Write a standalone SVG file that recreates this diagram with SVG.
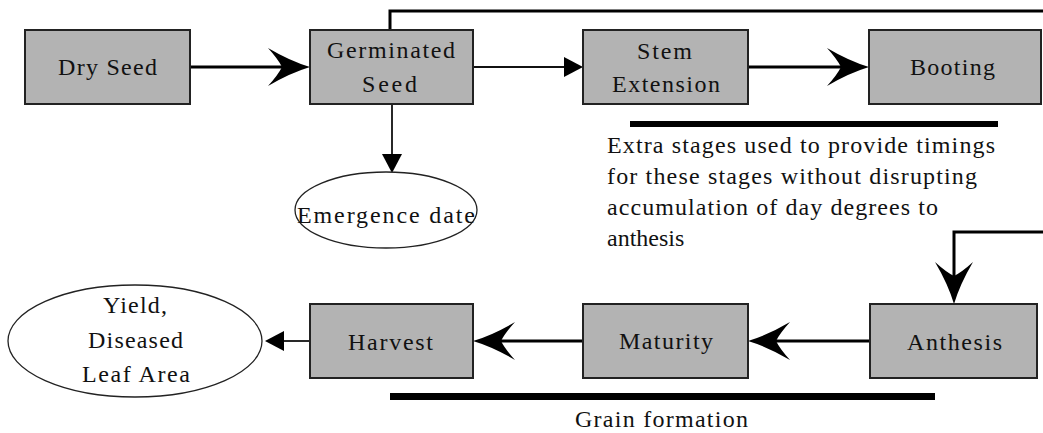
<svg xmlns="http://www.w3.org/2000/svg" width="1043" height="433" viewBox="0 0 1043 433">
<style>
.box{fill:#b3b3b3;stroke:#222;stroke-width:2}
.ell{fill:#fff;stroke:#222;stroke-width:1.3}
.thick{stroke:#000;stroke-width:3;fill:none}
.thin{stroke:#111;stroke-width:1.8;fill:none}
.bar{fill:#000}
</style>
<defs>
<marker id="big" markerUnits="userSpaceOnUse" viewBox="-44 -21 46 42" refX="-28" refY="0" markerWidth="46" markerHeight="42" orient="auto">
<path d="M0,0 Q-20,-6 -42,-19 Q-32,-8 -28,0 Q-32,8 -42,19 Q-20,6 0,0 Z" fill="#000"/>
</marker>
<marker id="small" markerUnits="userSpaceOnUse" viewBox="-21 -11 23 22" refX="-18" refY="0" markerWidth="23" markerHeight="22" orient="auto">
<path d="M0,0 L-19,-10 L-19,10 Z" fill="#000"/>
</marker>
</defs>

<g id="connectors">
<line class="thick" x1="190" y1="67" x2="282" y2="67" marker-end="url(#big)"/>
<line class="thin" x1="473" y1="67" x2="565" y2="67" marker-end="url(#small)"/>
<line class="thick" x1="748" y1="67" x2="841" y2="67" marker-end="url(#big)"/>
<line class="thin" x1="392" y1="104" x2="392" y2="155" marker-end="url(#small)"/>
<polyline class="thick" points="390,30 390,11 1043,11"/>
<polyline class="thick" points="1043,232 954,232 954,276" marker-end="url(#big)"/>
<line class="thick" x1="870" y1="341" x2="776" y2="341" marker-end="url(#big)"/>
<line class="thick" x1="583" y1="341" x2="501" y2="341" marker-end="url(#big)"/>
<line class="thin" x1="309" y1="341" x2="283" y2="341" marker-end="url(#small)"/>
</g>

<g font-family="Liberation Serif, Times New Roman, serif" font-size="24" fill="#111">
<g id="dry-seed">
<rect class="box" x="25" y="30" width="165" height="74"/>
<text x="58" y="75" textLength="99" lengthAdjust="spacing">Dry Seed</text>
</g>
<g id="germinated-seed">
<rect class="box" x="310" y="30" width="163" height="74"/>
<text x="327" y="58" textLength="128" lengthAdjust="spacing">Germinated</text>
<text x="362" y="92" textLength="55" lengthAdjust="spacing">Seed</text>
</g>
<g id="stem-extension">
<rect class="box" x="583" y="30" width="165" height="74"/>
<text x="637" y="59" textLength="55" lengthAdjust="spacing">Stem</text>
<text x="612" y="92" textLength="108" lengthAdjust="spacing">Extension</text>
</g>
<g id="booting">
<rect class="box" x="869" y="30" width="172" height="74"/>
<text x="910" y="75" textLength="85" lengthAdjust="spacing">Booting</text>
</g>
<g id="emergence-date">
<ellipse class="ell" cx="386" cy="210" rx="91" ry="38"/>
<text x="297" y="223" textLength="178" lengthAdjust="spacing">Emergence date</text>
</g>
<g id="extra-stages-note">
<rect class="bar" x="630" y="121" width="368" height="6"/>
<text x="607" y="153" textLength="388" lengthAdjust="spacing">Extra stages used to provide timings</text>
<text x="607" y="184" textLength="370" lengthAdjust="spacing">for these stages without disrupting</text>
<text x="607" y="215" textLength="331" lengthAdjust="spacing">accumulation of day degrees to</text>
<text x="607" y="246">anthesis</text>
</g>
<g id="anthesis">
<rect class="box" x="870" y="304" width="167" height="74"/>
<text x="907" y="350" textLength="95" lengthAdjust="spacing">Anthesis</text>
</g>
<g id="maturity">
<rect class="box" x="583" y="304" width="165" height="74"/>
<text x="619" y="349" textLength="94" lengthAdjust="spacing">Maturity</text>
</g>
<g id="harvest">
<rect class="box" x="310" y="304" width="163" height="74"/>
<text x="348" y="350" textLength="85" lengthAdjust="spacing">Harvest</text>
</g>
<g id="yield">
<ellipse class="ell" cx="135" cy="341" rx="127" ry="56"/>
<text x="103" y="313" textLength="64" lengthAdjust="spacing">Yield,</text>
<text x="88" y="348" textLength="95" lengthAdjust="spacing">Diseased</text>
<text x="82" y="382" textLength="108" lengthAdjust="spacing">Leaf Area</text>
</g>
<g id="grain-formation">
<rect class="bar" x="390" y="393" width="545" height="7"/>
<text x="575" y="427" textLength="173" lengthAdjust="spacing">Grain formation</text>
</g>
</g>
</svg>
